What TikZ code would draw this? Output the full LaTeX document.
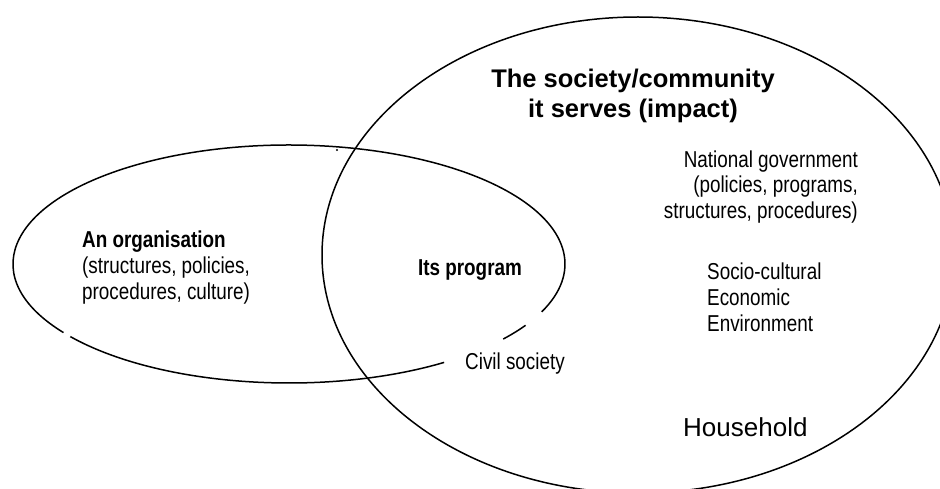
\documentclass[tikz,border=0pt]{standalone}
\usepackage{fontspec}
\setmainfont{Liberation Sans}
\newfontfamily\narrowfont[FakeStretch=0.82]{Liberation Sans}
\usetikzlibrary{calc}
\begin{document}
\begin{tikzpicture}[x=1pt,y=-1pt,
  outline/.style={line width=1.5pt},
  headtext/.style={font=\fontsize{25.5}{30}\selectfont\bfseries, inner sep=0pt, align=center},
  bodytext/.style={font=\narrowfont\fontsize{23}{25.8}\selectfont, inner sep=0pt},
  boldbody/.style={font=\narrowfont\fontsize{23}{25.8}\selectfont\bfseries, inner sep=0pt},
  bigtext/.style={font=\fontsize{26}{30}\selectfont, inner sep=0pt}]
\useasboundingbox (0,0) rectangle (940,489);

% centres of the two ellipses
\coordinate (orgc) at (289,264);
\coordinate (socc) at (638,255);

% the society / community
\draw[outline] (socc) ellipse [x radius=316, y radius=238];

% the organisation, drawn as arcs with small breaks
\draw[outline] ($(orgc)+(144.8:276 and 119)$)
  arc[start angle=144.8, end angle=383.7, x radius=276, y radius=119];
\draw[outline] ($(orgc)+(31.0:276 and 119)$)
  arc[start angle=31.0, end angle=39.1, x radius=276, y radius=119];
\draw[outline] ($(orgc)+(55.8:276 and 119)$)
  arc[start angle=55.8, end angle=142.4, x radius=276, y radius=119];

% stray dot
\fill (337,150) circle[radius=1.1];

% labels
\node[headtext] (title) at (633,96) {The society/community\\it serves (impact)};
\node[bodytext, align=right, anchor=east] (gov) at (858,187) {National government\\(policies, programs,\\structures, procedures)};
\node[bodytext, align=left, anchor=west] (factors) at (707,297) {Socio-cultural\\Economic\\Environment};
\node[bigtext, anchor=west] (household) at (683,427) {Household};
\node[bodytext, font=\narrowfont\fontsize{23}{26}\selectfont, align=left, anchor=west] (org) at (82,268)
  {{\bfseries An organisation}\\(structures, policies,\\procedures, culture)};
\node[boldbody] (program) at (470,270) {Its program};
\node[bodytext] (civil) at (515,364) {Civil society};
\end{tikzpicture}
\end{document}
